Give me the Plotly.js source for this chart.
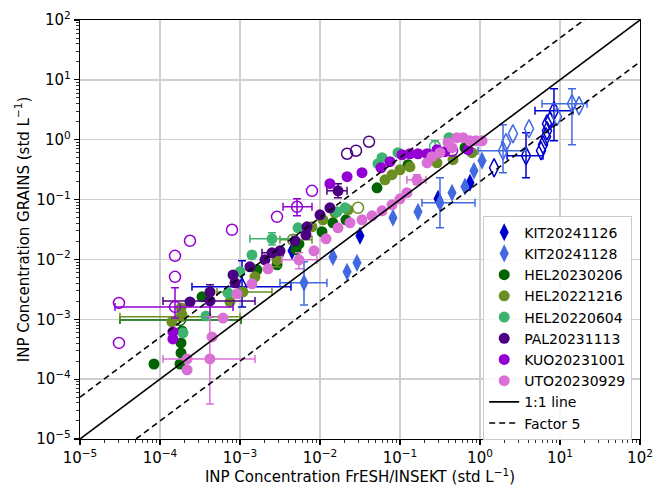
<!DOCTYPE html>
<html>
<head>
<meta charset="utf-8">
<script src="https://cdn.plot.ly/plotly-3.0.1.min.js"></script>
<style>html,body{margin:0;padding:0;background:#fff;}#chart{width:656px;height:486px;}</style>
</head>
<body>
<div id="chart"></div>
<script>
// ---------------- DATA (std L^-1) ----------------
// KIT20241126
const kit26_x = [4.47e-3, 3.16e-2, 0.299, 0.75];
const kit26_y = [1.39e-2, 2.48e-2, 0.103, 0.191];
const kit26_open_x = [1.50, 5.79, 6.13, 6.68, 6.88, 6.88, 7.50];
const kit26_open_y = [0.340, 0.655, 0.825, 1.12, 1.41, 1.85, 2.08];
const kit26_err_x = [1.06e-3, 3.76, 8.41];
const kit26_err_y = [3.48e-3, 0.540, 3.05];
const kit26_err_xlo = [2.51e-4, 2.18, 4.87];
const kit26_err_xhi = [4.34e-3, 6.13, 14.5];
const kit26_err_ylo = [1.61e-3, 0.232, 0.962];
const kit26_err_yhi = [9.48e-3, 1.31, 7.13];

// KIT20241128
const kit28_x = [1.45e-2, 2.18e-2, 2.90e-2, 8.17e-2, 0.168, 0.447, 0.649, 0.841, 1.06];
const kit28_y = [1.10e-2, 6.21e-3, 8.77e-3, 4.97e-2, 6.25e-2, 0.130, 0.164, 0.303, 0.446];
const kit28_open_x = [2.11, 2.58, 4.10, 9.17, 17.3];
const kit28_open_y = [0.891, 1.26, 1.53, 2.43, 3.70];
const kit28_err_x = [6.31e-3, 0.316];
const kit28_err_y = [4.06e-3, 8.84e-2];
const kit28_err_xlo = [3.16e-3, 0.188];
const kit28_err_xhi = [1.22e-2, 0.866];
const kit28_err_ylo = [1.74e-3, 3.38e-2];
const kit28_err_yhi = [9.12e-3, 0.232];
const kit28_eo_x = [1.94, 14.1];
const kit28_eo_y = [0.655, 4.0];
const kit28_eo_xlo = [0.944, 5.96];
const kit28_eo_xhi = [3.76, 21.8];
const kit28_eo_ylo = [0.281, 0.825];
const kit28_eo_yhi = [1.78, 7.13];

// HEL20230206
const hel0206_x = [8.41e-5, 1.78e-4, 1.83e-4, 1.83e-4, 1.88e-4, 3.35e-4, 1.63e-3, 2.90e-3, 5.01e-3, 5.46e-3, 1.06e-2, 1.45e-2, 2.11e-2, 5.16e-2, 0.126, 0.649];
const hel0206_y = [1.79e-4, 1.79e-4, 2.74e-4, 4.03e-4, 6.40e-4, 2.37e-3, 6.70e-3, 8.13e-3, 1.45e-2, 1.82e-2, 2.90e-2, 4.09e-2, 4.59e-2, 0.157, 0.382, 0.735];
const hel0206_open_x = [0.244];
const hel0206_open_y = [0.52];
const hel0206_err_x = [1.78e-4];
const hel0206_err_y = [9.77e-4];
const hel0206_err_xlo = [3.16e-5];
const hel0206_err_xhi = [1.03e-3];
const hel0206_err_ylo = [null];
const hel0206_err_yhi = [null];

// HEL20221216
const hel1216_x = [1.41e-4, 1.83e-4, 1.88e-4, 7.50e-4, 1.54e-3, 7.94e-3, 1.09e-2, 1.54e-2, 2.24e-2, 6.49e-2, 7.94e-2, 0.1, 0.133, 0.290, 0.460, 0.794];
const hel1216_y = [9.05e-4, 1.55e-3, 1.19e-3, 1.95e-3, 5.12e-3, 3.51e-2, 4.59e-2, 6.01e-2, 6.75e-2, 0.214, 0.260, 0.315, 0.353, 0.412, 0.463, 0.606];
const hel1216_open_x = [2.99e-2];
const hel1216_open_y = [7.29e-2];
const hel1216_err_x = [1.83e-4, 1.09e-3, 2.90e-3];
const hel1216_err_y = [1.10e-3, 2.87e-3, 9.84e-3];
const hel1216_err_xlo = [3.16e-5, 5.16e-4, null];
const hel1216_err_xhi = [1.0e-3, 2.51e-3, null];
const hel1216_err_ylo = [null, null, 7.52e-3];
const hel1216_err_yhi = [null, null, 1.29e-2];
const hel1216_eo_x = [4.60e-3];
const hel1216_eo_y = [2.13e-2];
const hel1216_eo_xlo = [3.16e-3];
const hel1216_eo_xhi = [7.94e-3];
const hel1216_eo_ylo = [null];
const hel1216_eo_yhi = [null];

// HEL20220604
const hel0604_x = [1.94e-4, 3.76e-4, 7.08e-4, 1.0e-3, 1.41e-3, 5.31e-3, 1.63e-2, 2.05e-2, 5.31e-2, 5.96e-2, 9.44e-2, 0.410];
const hel0604_y = [5.93e-4, 1.14e-3, 2.76e-3, 6.21e-3, 1.19e-2, 3.38e-2, 6.25e-2, 7.29e-2, 0.397, 0.500, 0.606, 1.08];
const hel0604_err_x = [2.51e-3];
const hel0604_err_y = [2.21e-2];
const hel0604_err_xlo = [1.33e-3];
const hel0604_err_xhi = [4.47e-3];
const hel0604_err_ylo = [1.75e-2];
const hel0604_err_yhi = [2.79e-2];
const hel0604_eo_x = [0.274];
const hel0604_eo_y = [0.764];
const hel0604_eo_xlo = [null];
const hel0604_eo_xhi = [null];
const hel0604_eo_ylo = [0.606];
const hel0604_eo_yhi = [0.962];

// PAL20231113
const pal_x = [2.37e-4, 4.22e-4, 8.18e-4, 8.66e-4, 1.33e-3, 2.05e-3, 3.16e-3, 4.87e-3, 6.68e-3, 6.88e-3, 1.0e-2, 1.33e-2];
const pal_y = [1.95e-3, 2.87e-3, 5.52e-3, 4.06e-3, 7.52e-3, 9.84e-3, 1.39e-2, 2.05e-2, 2.58e-2, 3.51e-2, 5.57e-2, 7.29e-2];
const pal_open_x = [2.18e-2, 2.82e-2, 4.10e-2];
const pal_open_y = [0.583, 0.655, 0.926];
const pal_err_x = [4.22e-4, 2.51e-3, 1.68e-2];
const pal_err_y = [2.03e-3, 1.29e-2, 0.140];
const pal_err_xlo = [1.09e-4, 1.88e-3, 1.22e-2];
const pal_err_xhi = [1.54e-3, 3.45e-3, 2.18e-2];
const pal_err_ylo = [1.10e-3, null, 0.107];
const pal_err_yhi = [3.76e-3, null, 0.184];

// KUO20231001
const kuo_x = [1.45e-4, 1.45e-4, 1.33e-2, 2.18e-2, 3.35e-2, 5.79e-2, 7.50e-2, 0.106, 0.133, 0.168, 0.218, 0.290, 0.365, 0.708];
const kuo_y = [6.15e-4, 4.70e-4, 0.184, 0.241, 0.281, 0.340, 0.429, 0.561, 0.583, 0.583, 0.583, 0.681, 0.630, 0.681];
const kuo_open_x = [3.07e-5, 3.07e-5, 1.54e-4, 1.54e-4, 2.37e-4, 7.94e-4, 2.90e-3, 7.94e-3, 0.447];
const kuo_open_y = [1.88e-3, 4.03e-4, 1.15e-2, 5.12e-3, 2.05e-2, 3.13e-2, 5.15e-2, 0.140, 0.655];
const kuo_eo_x = [1.54e-4, 5.16e-3];
const kuo_eo_y = [1.61e-3, 7.58e-2];
const kuo_eo_xlo = [2.74e-5, 3.45e-3];
const kuo_eo_xhi = [8.18e-4, 7.94e-3];
const kuo_eo_ylo = [1.05e-3, 5.36e-2];
const kuo_eo_yhi = [3.35e-3, 0.103];

// UTO20230929
const uto_x = [2.18e-4, 2.18e-4, 4.47e-4, 6.13e-4, 9.17e-4, 1.41e-3, 2.24e-3, 8.41e-3, 1.19e-2, 1.68e-2, 2.37e-2, 3.35e-2, 4.47e-2, 5.96e-2, 7.94e-2, 0.1, 0.122, 0.218, 0.251, 0.316, 0.398, 0.447, 0.516, 0.613, 0.75, 0.89, 1.06];
const uto_y = [1.43e-4, 2.18e-4, 5.08e-4, 1.05e-3, 2.66e-3, 3.91e-3, 6.97e-3, 1.39e-2, 2.21e-2, 3.37e-2, 4.09e-2, 4.59e-2, 5.36e-2, 6.5e-2, 8.18e-2, 0.103, 0.13, 0.412, 0.52, 0.606, 0.891, 0.735, 1.08, 1.08, 0.96, 0.96, 0.96];
const uto_err_x = [4.2e-4, 5.46e-3, 0.163];
const uto_err_y = [2.18e-4, 9.84e-3, 0.214];
const uto_err_xlo = [1.09e-4, 3.35e-3, 0.122];
const uto_err_xhi = [1.54e-3, 9.17e-3, 0.211];
const uto_err_ylo = [3.85e-5, 6.97e-3, 0.177];
const uto_err_yhi = [1.10e-3, 1.29e-2, 0.260];

// reference lines
const lineX = [1e-5, 1e2];
const factor = 5;

// tick labels
const tickVals = [1e-5, 1e-4, 1e-3, 1e-2, 1e-1, 1e0, 1e1, 1e2];
const tickText = ['10<sup>\u22125</sup>', '10<sup>\u22124</sup>', '10<sup>\u22123</sup>', '10<sup>\u22122</sup>',
                  '10<sup>\u22121</sup>', '10<sup>0</sup>', '10<sup>1</sup>', '10<sup>2</sup>'];

// ---------------- BUILD ----------------
const C = {
  kit26: '#0000CD', kit28: '#4169E1', hel0206: '#006400', hel1216: '#6B8E23',
  hel0604: '#3CB371', pal: '#4B0082', kuo: '#9400D3', uto: '#DA70D6'
};
const MS = 11, DS = 13;

function errObj(v, lo, hi, color) {
  const plus = v.map((val, i) => hi[i] == null ? NaN : hi[i] - val);
  const minus = v.map((val, i) => lo[i] == null ? NaN : val - lo[i]);
  return {type: 'data', symmetric: false, array: plus, arrayminus: minus,
          color: color, thickness: 1.5, width: 4};
}
function pts(name, x, y, color, sym, open, show) {
  return {
    type: 'scatter', mode: 'markers', name: name, x: x, y: y,
    showlegend: !!show, legendgroup: name,
    marker: open ? {symbol: sym + '-open', size: sym === 'circle' ? MS : DS, color: color, line: {color: color, width: 1.5}}
                 : {symbol: sym, size: sym === 'circle' ? MS : DS, color: color, line: {width: 0}},
    hoverinfo: 'x+y'
  };
}
function errPts(name, x, y, xlo, xhi, ylo, yhi, color, sym, open) {
  const t = pts(name, x, y, color, sym, open, false);
  t.error_x = errObj(x, xlo, xhi, color);
  t.error_y = errObj(y, ylo, yhi, color);
  return t;
}

const data = [];
data.push(pts('KIT20241126', kit26_x, kit26_y, C.kit26, 'diamond-tall', false, true));
data.push(pts('KIT20241126', kit26_open_x, kit26_open_y, C.kit26, 'diamond-tall', true));
data.push(errPts('KIT20241126', kit26_err_x, kit26_err_y, kit26_err_xlo, kit26_err_xhi, kit26_err_ylo, kit26_err_yhi, C.kit26, 'diamond-tall', true));
data.push(pts('KIT20241128', kit28_x, kit28_y, C.kit28, 'diamond-tall', false, true));
data.push(pts('KIT20241128', kit28_open_x, kit28_open_y, C.kit28, 'diamond-tall', true));
data.push(errPts('KIT20241128', kit28_err_x, kit28_err_y, kit28_err_xlo, kit28_err_xhi, kit28_err_ylo, kit28_err_yhi, C.kit28, 'diamond-tall', false));
data.push(errPts('KIT20241128', kit28_eo_x, kit28_eo_y, kit28_eo_xlo, kit28_eo_xhi, kit28_eo_ylo, kit28_eo_yhi, C.kit28, 'diamond-tall', true));
data.push(pts('HEL20230206', hel0206_x, hel0206_y, C.hel0206, 'circle', false, true));
data.push(pts('HEL20230206', hel0206_open_x, hel0206_open_y, C.hel0206, 'circle', true));
data.push(errPts('HEL20230206', hel0206_err_x, hel0206_err_y, hel0206_err_xlo, hel0206_err_xhi, hel0206_err_ylo, hel0206_err_yhi, C.hel0206, 'circle', true));
data.push(pts('HEL20221216', hel1216_x, hel1216_y, C.hel1216, 'circle', false, true));
data.push(pts('HEL20221216', hel1216_open_x, hel1216_open_y, C.hel1216, 'circle', true));
data.push(errPts('HEL20221216', hel1216_err_x, hel1216_err_y, hel1216_err_xlo, hel1216_err_xhi, hel1216_err_ylo, hel1216_err_yhi, C.hel1216, 'circle', false));
data.push(errPts('HEL20221216', hel1216_eo_x, hel1216_eo_y, hel1216_eo_xlo, hel1216_eo_xhi, hel1216_eo_ylo, hel1216_eo_yhi, C.hel1216, 'circle', true));
data.push(pts('HEL20220604', hel0604_x, hel0604_y, C.hel0604, 'circle', false, true));
data.push(errPts('HEL20220604', hel0604_err_x, hel0604_err_y, hel0604_err_xlo, hel0604_err_xhi, hel0604_err_ylo, hel0604_err_yhi, C.hel0604, 'circle', false));
data.push(errPts('HEL20220604', hel0604_eo_x, hel0604_eo_y, hel0604_eo_xlo, hel0604_eo_xhi, hel0604_eo_ylo, hel0604_eo_yhi, C.hel0604, 'circle', true));
data.push(pts('PAL20231113', pal_x, pal_y, C.pal, 'circle', false, true));
data.push(pts('PAL20231113', pal_open_x, pal_open_y, C.pal, 'circle', true));
data.push(errPts('PAL20231113', pal_err_x, pal_err_y, pal_err_xlo, pal_err_xhi, pal_err_ylo, pal_err_yhi, C.pal, 'circle', false));
data.push(pts('KUO20231001', kuo_x, kuo_y, C.kuo, 'circle', false, true));
data.push(pts('KUO20231001', kuo_open_x, kuo_open_y, C.kuo, 'circle', true));
data.push(errPts('KUO20231001', kuo_eo_x, kuo_eo_y, kuo_eo_xlo, kuo_eo_xhi, kuo_eo_ylo, kuo_eo_yhi, C.kuo, 'circle', true));
data.push(pts('UTO20230929', uto_x, uto_y, C.uto, 'circle', false, true));
data.push(errPts('UTO20230929', uto_err_x, uto_err_y, uto_err_xlo, uto_err_xhi, uto_err_ylo, uto_err_yhi, C.uto, 'circle', false));
data.push({type: 'scatter', mode: 'lines', name: '1:1 line', x: lineX, y: lineX,
  line: {color: 'black', width: 1.6}, showlegend: true, hoverinfo: 'skip'});
data.push({type: 'scatter', mode: 'lines', name: 'Factor 5', x: lineX, y: lineX.map(v => v * factor),
  line: {color: 'black', width: 1.6, dash: '6px,4px'}, showlegend: true, legendgroup: 'f5', hoverinfo: 'skip'});
data.push({type: 'scatter', mode: 'lines', name: 'Factor 5', x: lineX, y: lineX.map(v => v / factor),
  line: {color: 'black', width: 1.6, dash: '6px,4px'}, showlegend: false, legendgroup: 'f5', hoverinfo: 'skip'});

const FONT = 'DejaVu Sans, Liberation Sans, sans-serif';
function axis(title, standoff) {
  return {
    type: 'log', range: [-5, 2], tickmode: 'array', tickvals: tickVals, ticktext: tickText,
    showgrid: true, gridcolor: '#cfcfcf', gridwidth: 1.3, zeroline: false,
    ticks: 'outside', ticklen: 5, tickwidth: 1.1, tickcolor: 'black',
    showline: true, linecolor: 'black', linewidth: 1.2, mirror: true,
    tickfont: {family: FONT, size: 15, color: 'black'},
    minor: {ticks: 'outside', ticklen: 2.5, tickwidth: 0.8, tickcolor: 'black', dtick: 'D1', showgrid: false},
    title: {text: title, font: {family: FONT, size: 15, color: 'black'}, standoff: standoff},
    automargin: false
  };
}
const layout = {
  width: 656, height: 486,
  margin: {l: 80, r: 16, t: 20, b: 47},
  paper_bgcolor: 'white', plot_bgcolor: 'white',
  font: {family: FONT, color: 'black'},
  xaxis: axis('INP Concentration FrESH/INSEKT (std L<sup>\u22121</sup>)', 2),
  yaxis: axis('INP Concentration GRAINS (std L<sup>\u22121</sup>)', 3),
  showlegend: true,
  legend: {x: 0.72, y: 0.533, xanchor: 'left', yanchor: 'top',
    bgcolor: 'rgba(255,255,255,0.85)', bordercolor: '#cccccc', borderwidth: 1,
    font: {family: FONT, size: 14, color: 'black'}, tracegroupgap: 0}
};
Plotly.newPlot('chart', data, layout, {displayModeBar: false, staticPlot: true});
</script>
</body>
</html>
